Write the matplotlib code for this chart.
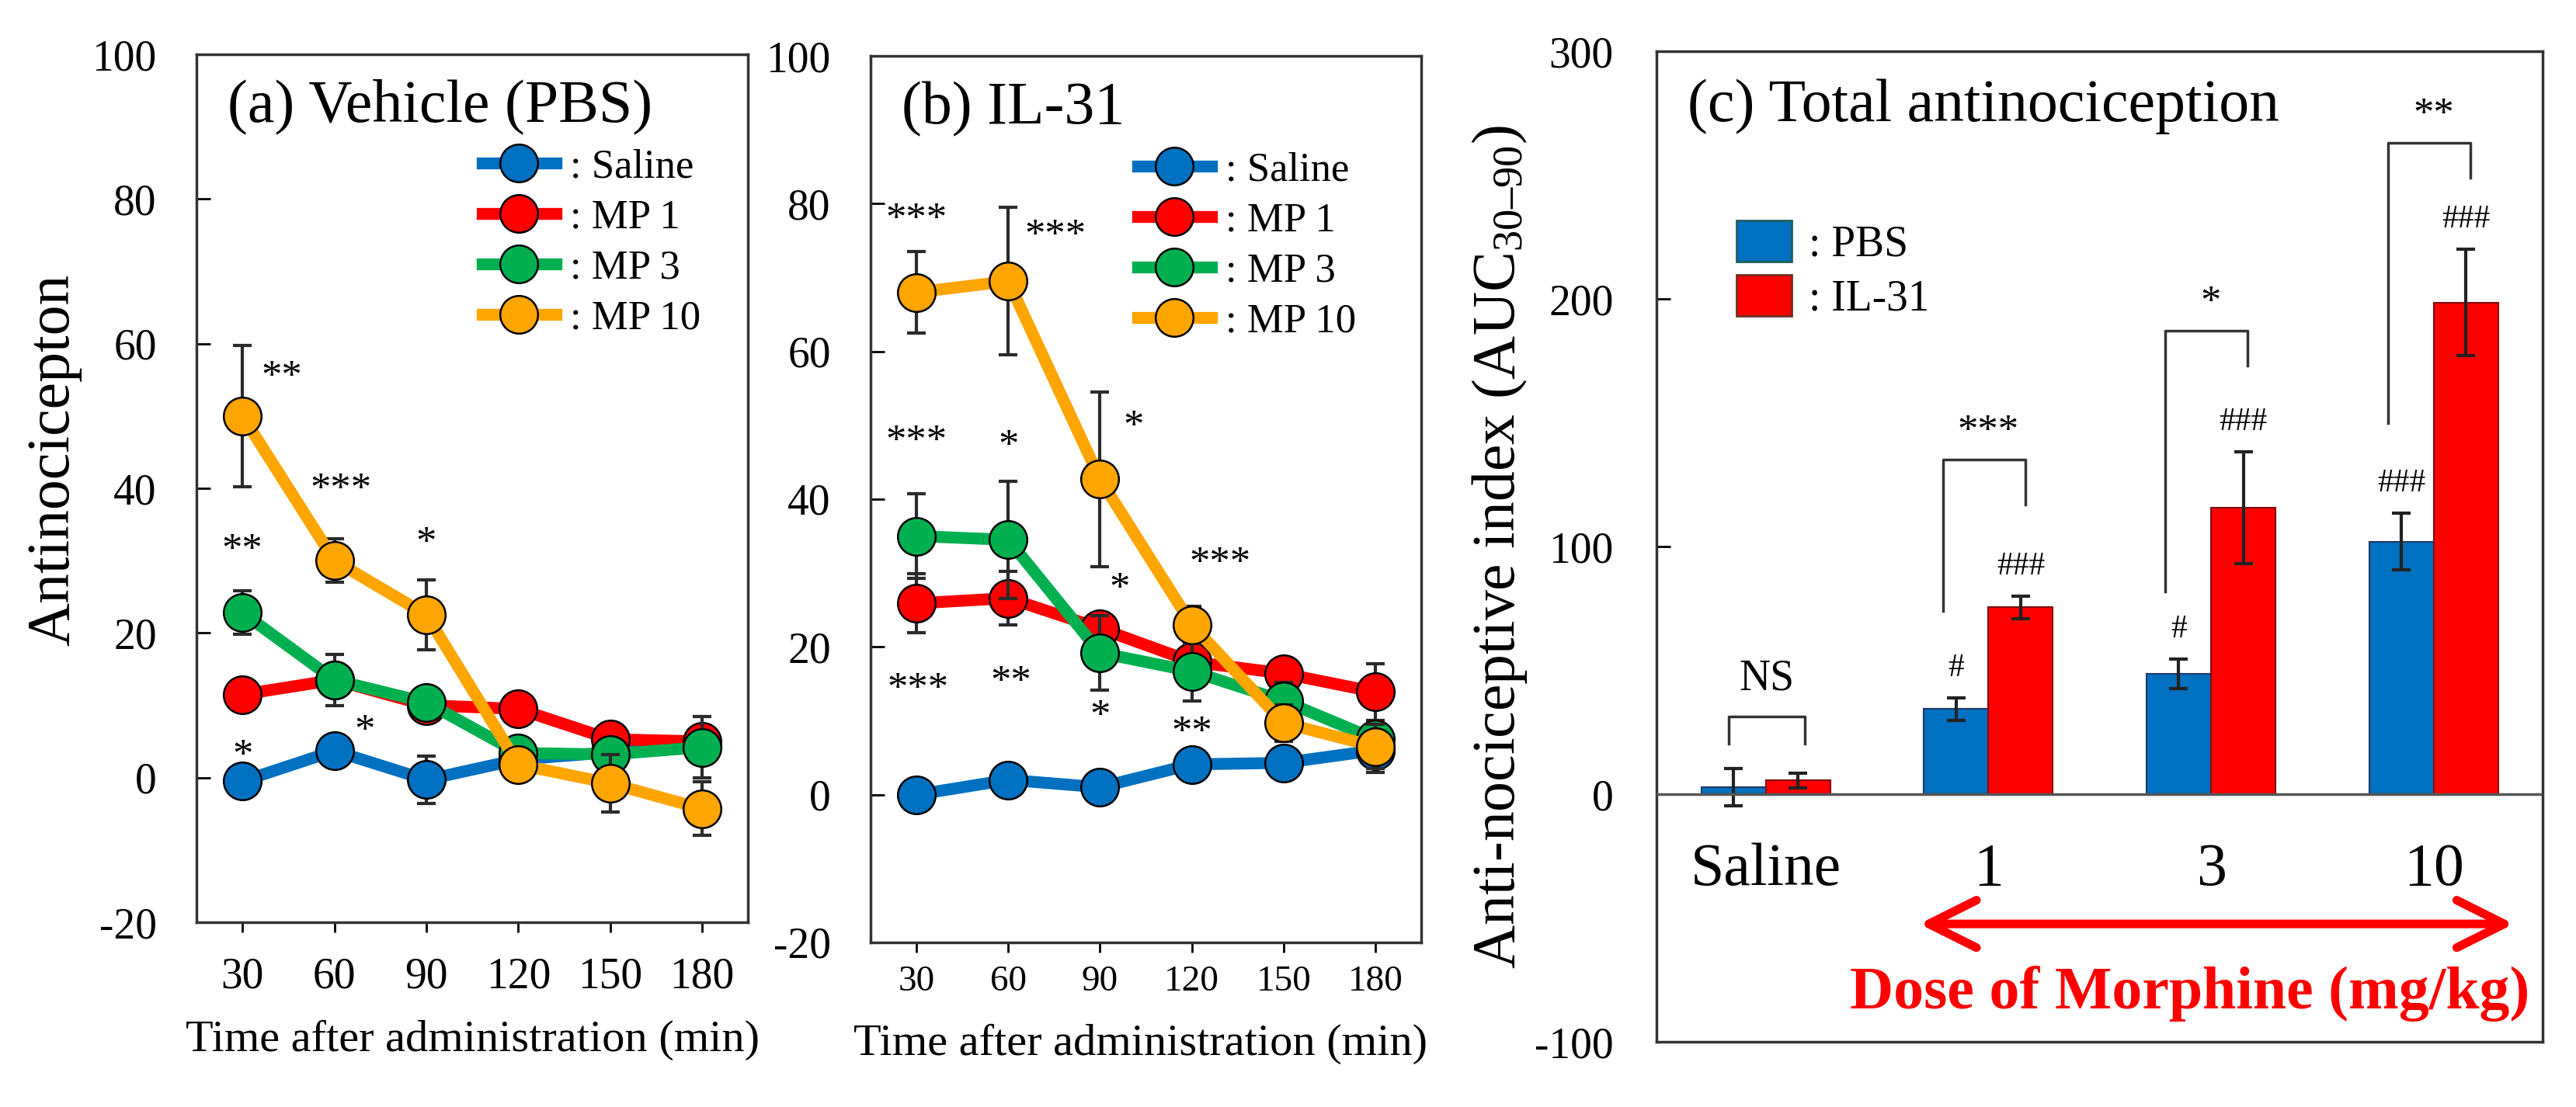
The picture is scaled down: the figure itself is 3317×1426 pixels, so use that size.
import matplotlib
matplotlib.use("Agg")
import matplotlib.pyplot as plt
from matplotlib.patches import Patch

plt.rcParams["font.family"] = ["Liberation Serif", "DejaVu Serif"]
plt.rcParams["mathtext.fontset"] = "custom"
plt.rcParams["mathtext.rm"] = "Liberation Serif"
plt.rcParams["mathtext.it"] = "Liberation Serif:italic"
plt.rcParams["axes.unicode_minus"] = False

# ---- data: panels (a) and (b), time course ----
times = [30, 60, 90, 120, 150, 180]
groups = [": Saline", ": MP 1", ": MP 3", ": MP 10"]
colors = ["#0070C0", "#FF0000", "#00B050", "#FFA500"]

pbs_means = [
    [-0.5, 3.7, -0.3, 2.5, 3.5, 4.5],
    [11.5, 13.5, 10.0, 9.5, 5.3, 5.0],
    [22.8, 13.5, 10.4, 3.4, 3.2, 4.2],
    [50.0, 30.0, 22.5, 1.8, -0.8, -4.3],
]
pbs_sem = [
    [1.5, 2.0, 3.3, 1.5, 2.0, 2.0],
    [1.5, 1.5, 1.5, 2.0, 1.5, 2.0],
    [3.0, 3.5, 2.0, 1.5, 1.5, 4.2],
    [9.8, 3.0, 4.8, 1.5, 4.0, 3.7],
]
il31_means = [
    [0.0, 2.0, 1.0, 4.1, 4.3, 6.0],
    [25.9, 26.6, 22.5, 18.0, 16.4, 13.9],
    [35.0, 34.5, 19.2, 16.7, 12.7, 7.5],
    [68.0, 69.5, 42.7, 23.0, 9.7, 6.5],
]
il31_sem = [
    [1.0, 1.5, 2.0, 1.5, 1.5, 3.0],
    [4.0, 3.6, 2.0, 2.0, 2.0, 3.8],
    [5.7, 7.9, 5.0, 4.0, 2.5, 2.0],
    [5.5, 10.0, 11.8, 2.5, 2.5, 3.0],
]

# significance marks (x, visual y, text)
pbs_stars = [(42.7, 56.5, "**"), (62, 41, "***"), (90, 33.6, "*"),
             (30, 32.6, "**"), (30, 4.2, "*"), (69.8, 7.6, "*")]
il31_stars = [(30, 79, "***"), (75.3, 76.8, "***"), (101, 51, "*"),
              (30, 49, "***"), (60, 48.3, "*"), (96.3, 29, "*"),
              (129.3, 32.5, "***"), (30.5, 15.4, "***"), (61, 16.4, "**"),
              (90, 11.8, "*"), (120, 9.6, "**")]

# ---- data: panel (c), total antinociception ----
doses = ["Saline", "1", "3", "10"]
auc_pbs = [2.8, 34.4, 48.6, 102.0]
auc_pbs_sem = [7.5, 4.5, 6.0, 11.5]
auc_il31 = [5.5, 75.5, 115.7, 198.5]
auc_il31_sem = [3.0, 4.5, 22.5, 21.5]
pbs_hash = ["", "#", "#", "###"]
il31_hash = ["", "###", "###", "###"]
# brackets: left foot, top, right foot, label
brackets = [
    (20.4, 31.4, 20.4, "NS"),
    (73.9, 135, 117, "***"),
    (81.7, 187, 173, "*"),
    (150, 263, 249, "**"),
]

fig = plt.figure(figsize=(33.17, 14.26), dpi=100)
ax_a = fig.add_axes([0.0763, 0.1669, 0.2141, 0.784])
ax_b = fig.add_axes([0.3380, 0.1487, 0.2137, 0.8008])
ax_c = fig.add_axes([0.6431, 0.0589, 0.3440, 0.8948])

spine_col = "#333333"


def time_panel(ax, means, sems, stars, title, xfs, xpad, legend_xy):
    for k in range(len(groups)):
        ax.errorbar(times, means[k], yerr=sems[k], fmt="none", ecolor="#2b2b2b",
                    elinewidth=3, capsize=8.3, capthick=3, zorder=2 + k)
        ax.plot(times, means[k], "-o", color=colors[k], lw=11, ms=35,
                mec="black", mew=1.8, label=groups[k], zorder=2.5 + k)
    for x, y, s in stars:
        ax.text(x, y - 1.3, s, ha="center", va="center", fontsize=38, zorder=10)
    ax.set_xlim(15, 195)
    ax.set_ylim(-20, 100)
    ax.set_xticks(times)
    ax.set_yticks(range(-20, 101, 20))
    ax.tick_params(axis="y", direction="in", length=13, width=2, labelsize=40, pad=37)
    ax.tick_params(axis="x", direction="out", length=9, width=2, labelsize=xfs, pad=xpad)
    for sp in ax.spines.values():
        sp.set_color(spine_col)
        sp.set_linewidth(2.5)
    ax.text(0.056, 0.94, title, transform=ax.transAxes, fontsize=56,
            ha="left", va="center")
    ax.set_xlabel("Time after administration (min)", fontsize=42)
    ax.legend(loc="upper left", bbox_to_anchor=legend_xy, frameon=False,
              fontsize=38, handlelength=1.8, handletextpad=0.34,
              labelspacing=0.32, borderpad=0, borderaxespad=0)


time_panel(ax_a, pbs_means, pbs_sem, pbs_stars, "(a) Vehicle (PBS)", 40, 23,
           (0.518, 0.891))
time_panel(ax_b, il31_means, il31_sem, il31_stars, "(b) IL-31", 34, 12,
           (0.485, 0.892))

ax_a.xaxis.label.set_va("center")
ax_a.xaxis.set_label_coords(0.5, -0.136)
ax_b.xaxis.label.set_va("center")
ax_b.xaxis.set_label_coords(0.49, -0.115)

ax_a.set_ylabel("Antinocicepton", fontsize=56)
ax_a.yaxis.label.set_va("center")
ax_a.yaxis.set_label_coords(-0.258, 0.533)

# ---- panel (c) ----
w = 0.29
pos = list(range(len(doses)))
xp = [p - w / 2 for p in pos]
xi = [p + w / 2 for p in pos]
ax_c.bar(xp, auc_pbs, w, color="#0070C0", edgecolor="#1F3864", lw=1.5, zorder=2)
ax_c.bar(xi, auc_il31, w, color="#FF0000", edgecolor="#7F1010", lw=1.5, zorder=2)
ax_c.errorbar(xp, auc_pbs, yerr=auc_pbs_sem, fmt="none", ecolor="#222222",
              elinewidth=3, capsize=8.6, capthick=3, zorder=3)
ax_c.errorbar(xi, auc_il31, yerr=auc_il31_sem, fmt="none", ecolor="#222222",
              elinewidth=3, capsize=8.6, capthick=3, zorder=3)
ax_c.axhline(0, color="#555555", lw=2.5, zorder=4)

for i in pos:
    if pbs_hash[i]:
        ax_c.text(xp[i], auc_pbs[i] + auc_pbs_sem[i] + 12, pbs_hash[i],
                  ha="center", va="center", fontsize=30)
    if il31_hash[i]:
        ax_c.text(xi[i], auc_il31[i] + auc_il31_sem[i] + 12, il31_hash[i],
                  ha="center", va="center", fontsize=30)
    lf, top, rf, lab = brackets[i]
    bl = xp[i] - (0.02 if i == 0 else 0.06)
    br = xi[i] + (0.03 if i == 0 else 0.02)
    ax_c.plot([bl, bl, br, br], [lf, top, top, rf], color="#333333", lw=2.5,
              zorder=3)
    if lab == "NS":
        ax_c.text((bl + br) / 2, top + 15, lab, ha="center", va="center",
                  fontsize=40)
    else:
        ax_c.text((bl + br) / 2 + 0.02, top + 15 - 4, lab, ha="center",
                  va="center", fontsize=38)
    ax_c.text(i, -36.7, doses[i], ha="center", va="baseline", fontsize=56)

ax_c.annotate("", xy=(3.36, -52.4), xytext=(0.69, -52.4),
              arrowprops=dict(arrowstyle="<->,head_length=2.2,head_width=1.1",
                              color="#FF0000", lw=8, mutation_scale=20,
                              shrinkA=0, shrinkB=0))
ax_c.text(1.905, -86.5, "Dose of Morphine (mg/kg)", color="#FF0000",
          fontweight="bold", fontsize=56, ha="center", va="baseline")

ax_c.set_xlim(-0.49, 3.49)
ax_c.set_ylim(-100, 300)
ax_c.set_xticks([])
ax_c.set_yticks(range(-100, 301, 100))
ax_c.tick_params(axis="y", direction="in", length=13, width=2, labelsize=40, pad=40)
for sp in ax_c.spines.values():
    sp.set_color(spine_col)
    sp.set_linewidth(2.5)
ax_c.set_ylabel("Anti-nociceptive index (AUC$_{\\mathrm{30\u201390}}$)", fontsize=56)
ax_c.yaxis.label.set_va("center")
ax_c.yaxis.set_label_coords(-0.177, 0.5)
ax_c.text(0.035, 0.944, "(c) Total antinociception", transform=ax_c.transAxes,
          fontsize=56, ha="left", va="center")
handles = [Patch(facecolor="#0070C0", edgecolor="#1F5F5F", lw=2, label=": PBS"),
           Patch(facecolor="#FF0000", edgecolor="#6F3020", lw=2, label=": IL-31")]
ax_c.legend(handles=handles, loc="upper left", bbox_to_anchor=(0.090, 0.829),
            frameon=False, fontsize=40, handlelength=1.28, handleheight=1.08,
            handletextpad=0.4, labelspacing=0.23, borderpad=0, borderaxespad=0)

fig.savefig("out.png", dpi=100)
